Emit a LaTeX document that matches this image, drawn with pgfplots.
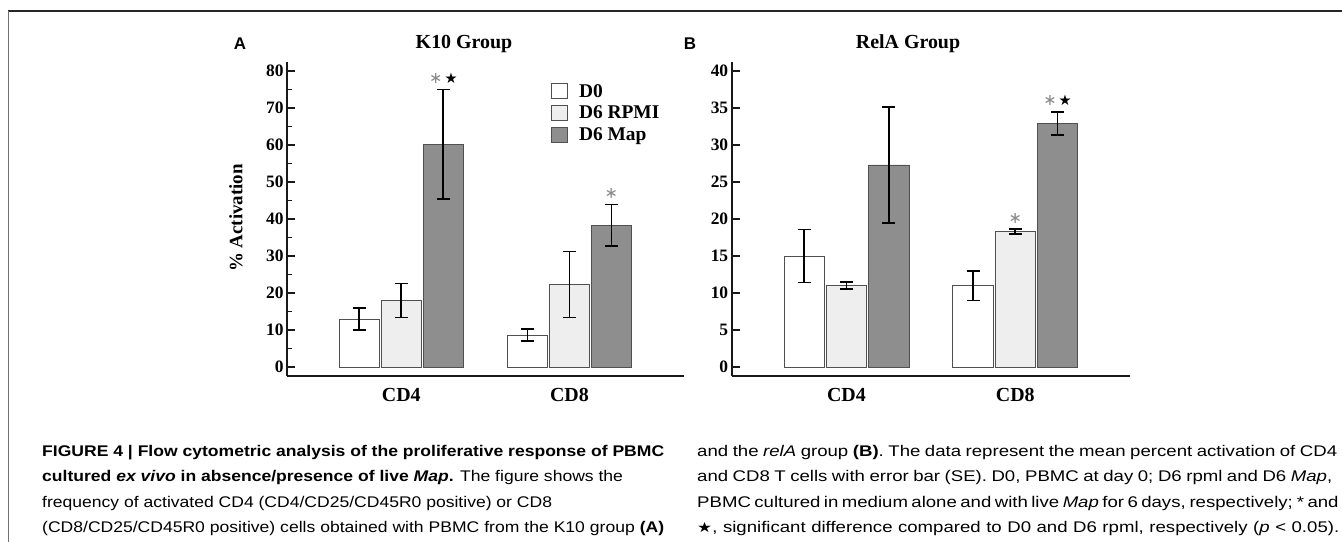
\documentclass[border=0pt]{standalone}
\usepackage{fontspec}
\setmainfont{Liberation Serif}
\newfontfamily\capfont{Liberation Sans}
\newfontfamily\symfont{DejaVu Sans}
\usepackage{pgfplots}
\pgfplotsset{compat=1.18}
\usepackage{pgfplotstable}
\definecolor{edge}{HTML}{505050}
\definecolor{rpmi}{HTML}{EEEEEE}
\definecolor{mapc}{HTML}{8E8E8E}
\definecolor{astc}{HTML}{8A8A8A}

% x: 0 = CD4, 1 = CD8
\pgfplotstableread{
x d0 d0e rp rpe mp mpe
0 13.0 3.0 18.0 4.6 60.2 14.8
1 8.6 1.65 22.3 8.9 38.3 5.6
}\Adata
\pgfplotstableread{
x d0 d0e rp rpe mp mpe
0 15.0 3.6 11.0 0.5 27.3 7.85
1 11.0 2.0 18.3 0.35 32.9 1.55
}\Bdata

\pgfplotsset{
  sq legend/.style={legend image code/.code={\draw[##1, draw=edge, line width=0.8bp] (0bp,-7.5bp) rectangle (16bp,7.5bp);}},
  bars/.style={ybar, bar width=0.24, bar shift=0pt, draw=edge, line width=0.8bp,
    /pgfplots/error bars/y dir=both, /pgfplots/error bars/y explicit,
    /pgfplots/error bars/error bar style={line width=1.7bp, black},
    /pgfplots/error bars/error mark options={rotate=90, mark size=6.5bp, line width=1.7bp, black}},
  panel/.style={
    scale only axis, height=314bp,
    axis lines=left, axis line style={-, line width=1.6bp, black!90},
    xmin=-0.68, xmax=1.68,
    xtick={0,1}, xticklabels={CD4,CD8},
    x tick style={draw=none},
    xticklabel style={font=\fontsize{20}{20}\selectfont\bfseries, yshift=-9bp},
    yticklabel style={font=\fontsize{17.5}{17.5}\selectfont\bfseries},
    /pgf/number format/assume math mode=true,
    tick align=inside, major tick length=8bp, minor tick length=5bp,
    y tick style={line width=1.2bp, black!90},
    clip=false,
  }
}
\newcommand\myast{{\fontsize{16}{16}\selectfont ∗}}
\newcommand\mystr{\textcolor{black}{\fontsize{14.5}{14.5}\selectfont ★}}

\newsavebox\capbox
\newcommand\capsize{\capfont\fontsize{15.5}{15.5}\selectfont}
\newcommand\capline[1]{\sbox\capbox{\capsize #1}\scalebox{\capfac}[1]{\usebox\capbox}}
% justified line: #1 = target width in bp, #2 = horizontal factor
\newcommand\capjust[3]{\pgfmathsetlengthmacro\capw{#1*1.00375/#2}%
  \scalebox{#2}[1]{\makebox[\capw][s]{\capsize #3}}}

\begin{document}
\sbox\capbox{\capsize\textbf{FIGURE 4 | Flow cytometric analysis of the proliferative response of PBMC}}%
\pgfmathsetmacro\capfac{624.33/\wd\capbox}%
\pgfmathsetmacro\capfacR{\capfac*1.06}%
\begin{tikzpicture}
\useasboundingbox (0,0) rectangle (1342bp,-542bp);
\fill[white] (0,0) rectangle (1342bp,-542bp);
% frame
\draw[line width=1.5bp, black!85] (8bp,-11bp) -- (1342bp,-11bp);
\draw[line width=1.5bp, black!55] (8.5bp,-11bp) -- (8.5bp,-542bp);

% Panel A
\begin{axis}[panel, width=396.7bp, at={(287bp,-376bp)}, anchor=south west,
  ymin=-2.43, ymax=82.43, ytick={0,10,...,80}, minor y tick num=1,
  legend style={at={(rel axis cs:0.658,0.943)}, anchor=north west, draw=none, fill=none,
    font=\fontsize{19.5}{19.5}\selectfont\bfseries, row sep=3.5bp, cells={anchor=west}},
  legend cell align=left]
\addplot[bars, fill=white, sq legend] table[x expr=\thisrow{x}-0.25, y=d0, y error=d0e] {\Adata};
\addplot[bars, fill=rpmi, sq legend] table[x expr=\thisrow{x}, y=rp, y error=rpe] {\Adata};
\addplot[bars, fill=mapc, sq legend] table[x expr=\thisrow{x}+0.25, y=mp, y error=mpe] {\Adata};
\legend{\hspace{9bp}D0, \hspace{9bp}D6 RPMI, \hspace{9bp}D6 Map}
\node[font=\symfont, text=astc, inner sep=0pt] at (axis cs:0.25,78.0) {\myast\kern2bp\mystr};
\node[font=\symfont, text=astc, inner sep=0pt] at (axis cs:1.25,47.0) {\myast};
\end{axis}

% Panel B
\begin{axis}[panel, width=398.3bp, at={(731.7bp,-376bp)}, anchor=south west,
  ymin=-1.215, ymax=41.215, ytick={0,5,...,40}]
\addplot[bars, fill=white] table[x expr=\thisrow{x}-0.25, y=d0, y error=d0e] {\Bdata};
\addplot[bars, fill=rpmi] table[x expr=\thisrow{x}, y=rp, y error=rpe] {\Bdata};
\addplot[bars, fill=mapc] table[x expr=\thisrow{x}+0.25, y=mp, y error=mpe] {\Bdata};
\node[font=\symfont, text=astc, inner sep=0pt] at (axis cs:1,20.1) {\myast};
\node[font=\symfont, text=astc, inner sep=0pt] at (axis cs:1.25,36.0) {\myast\kern2bp\mystr};
\end{axis}

% titles and labels
\node[font=\fontsize{20}{20}\selectfont\bfseries] at (464bp,-44bp) {K10 Group};
\node[font=\fontsize{20}{20}\selectfont\bfseries] at (908bp,-44bp) {RelA Group};
\node[font=\capfont\fontsize{17}{17}\selectfont\bfseries] at (240bp,-44bp) {A};
\node[font=\capfont\fontsize{17}{17}\selectfont\bfseries] at (690bp,-44bp) {B};
\node[rotate=90, font=\fontsize{19}{19}\selectfont\bfseries] at (236bp,-218bp) {\% Activation};

% caption
\begin{scope}[every node/.style={anchor=base west, inner sep=0pt}]
\node at (42bp,-456bp) {\capline{\textbf{FIGURE 4 | Flow cytometric analysis of the proliferative response of PBMC}}};
\node at (42bp,-481.5bp) {\capline{\textbf{cultured \textit{ex vivo} in absence/presence of live \textit{Map}.} The figure shows the}};
\node at (42bp,-507bp) {\capline{frequency of activated CD4 (CD4/CD25/CD45R0 positive) or CD8}};
\node at (42bp,-532.5bp) {\capjust{622}{\capfac}{(CD8/CD25/CD45R0 positive) cells obtained with PBMC from the K10 group \textbf{(A)}}};
\node at (697bp,-456bp) {\capjust{640}{\capfacR}{and the \textit{relA} group \textbf{(B)}. The data represent the mean percent activation of CD4}};
\node at (697bp,-481.5bp) {\capjust{635}{\capfacR}{and CD8 T cells with error bar (SE). D0, PBMC at day 0; D6 rpml and D6 \textit{Map},}};
\node at (697bp,-507bp) {\capjust{640}{\capfacR}{PBMC cultured in medium alone and with live \textit{Map} for 6 days, respectively; * and}};
\node at (697bp,-532.5bp) {\capjust{642}{\capfacR}{{\symfont\fontsize{14}{14}\selectfont ★}, significant difference compared to D0 and D6 rpml, respectively (\textit{p} < 0.05).}};
\end{scope}
\end{tikzpicture}
\end{document}
